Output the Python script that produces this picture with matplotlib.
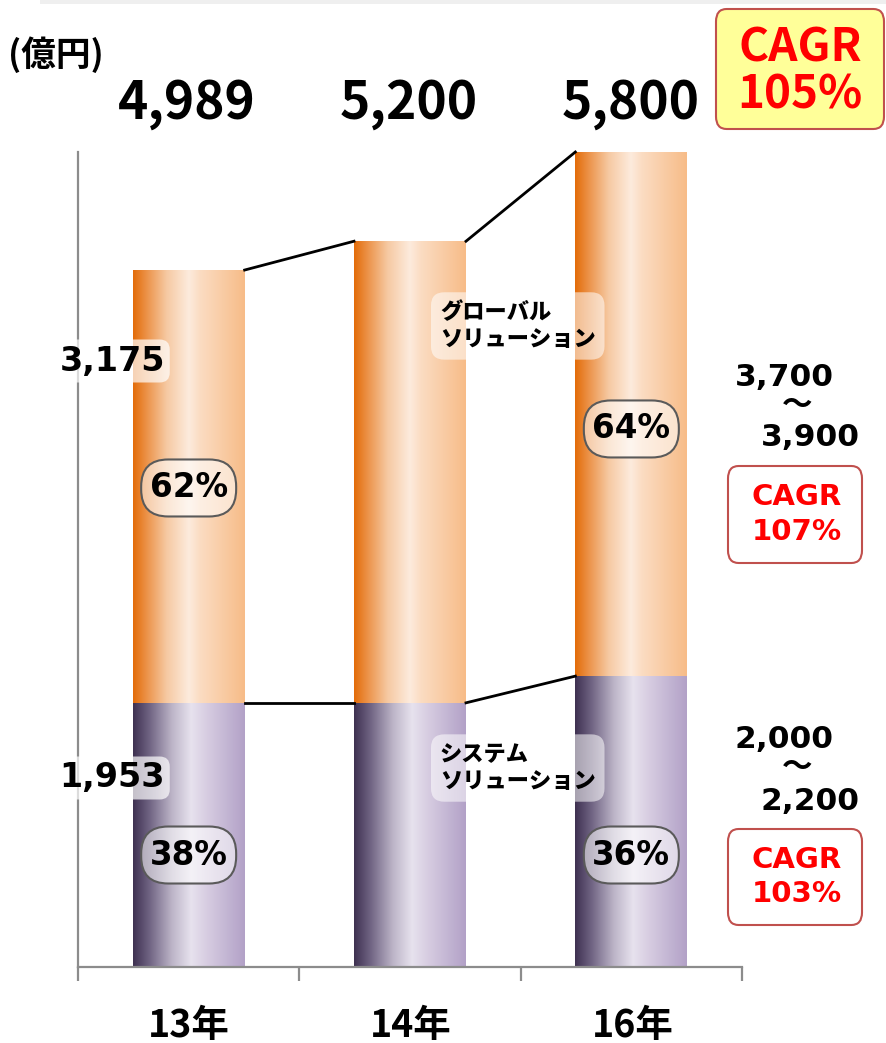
import matplotlib
matplotlib.use("Agg")
import matplotlib.pyplot as plt
import numpy as np
from matplotlib.colors import LinearSegmentedColormap
from matplotlib.patches import FancyBboxPatch

# ---------------- data ----------------
categories = ['13年', '14年', '16年']
system_vals = [1880, 1880, 2070]          # システムソリューション (bar heights)
global_vals = [3080, 3285, 3730]          # グローバルソリューション (bar heights)
total_labels = ['4,989', '5,200', '5,800']
global_label_13 = '3,175'
system_label_13 = '1,953'
global_share = ['62%', None, '64%']
system_share = ['38%', None, '36%']
global_target = ['3,700', '～', '3,900']
system_target = ['2,000', '～', '2,200']
cagr_total = 'CAGR\n105%'
cagr_global = 'CAGR\n107%'
cagr_system = 'CAGR\n103%'

# label placement (style, in axis data units)
global_pill_y = [3409, None, 3829]
system_pill_y = [797, None, 797]

W, H = 886, 1043
fig = plt.figure(figsize=(W / 100, H / 100), dpi=100)
fig.patch.set_facecolor('white')

CJK = ['Noto Sans CJK JP', 'DejaVu Sans']
NUM = ['DejaVu Sans', 'Noto Sans CJK JP']


def fx(x):
    return x / W


def fy(y):
    return 1 - y / H


# faint top strip
fig.patches.append(plt.Rectangle((fx(40), fy(4)), fx(846), 4 / H, transform=fig.transFigure,
                                 facecolor='#efefef', edgecolor='none'))

ax = fig.add_axes([fx(78), fy(967), 664 / W, (967 - 152) / H])
ax.set_xlim(-0.5, 2.5)
ax.set_ylim(0, 5800)
for s in ['top', 'right']:
    ax.spines[s].set_visible(False)
for s in ['left', 'bottom']:
    ax.spines[s].set_color('#8c8c8c')
    ax.spines[s].set_linewidth(1.6)
ax.set_xticks([-0.5, 0.5, 1.5, 2.5])
ax.set_xticklabels([])
ax.tick_params(axis='x', length=10, width=1.6, color='#8c8c8c', direction='out')
ax.set_yticks([])

orange = LinearSegmentedColormap.from_list('o', [
    (0.0, '#E36C09'), (0.12, '#EC9248'), (0.3, '#F6C9A2'), (0.5, '#FDEBDD'),
    (0.6, '#FBDCC2'), (1.0, '#F7BC88')])
purple = LinearSegmentedColormap.from_list('p', [
    (0.0, '#3F3151'), (0.15, '#716584'), (0.35, '#BDB5C8'), (0.52, '#E7E2EE'),
    (0.65, '#D8CEE2'), (1.0, '#B2A1C7')])

bw = 0.506
grad = np.linspace(0, 1, 256).reshape(1, -1)
x = np.arange(len(categories))
tops = [s + g for s, g in zip(system_vals, global_vals)]
for i in x:
    ax.imshow(grad, cmap=purple, extent=[i - bw / 2, i + bw / 2, 0, system_vals[i]],
              aspect='auto', zorder=2, interpolation='bilinear')
    ax.imshow(grad, cmap=orange, extent=[i - bw / 2, i + bw / 2, system_vals[i], tops[i]],
              aspect='auto', zorder=2, interpolation='bilinear')
ax.set_xlim(-0.5, 2.5)
ax.set_ylim(0, 5800)

# connector lines
for i in range(len(categories) - 1):
    ax.plot([i + bw / 2, i + 1 - bw / 2], [tops[i], tops[i + 1]], color='black', lw=2, zorder=3,
            clip_on=False)
    ax.plot([i + bw / 2, i + 1 - bw / 2], [system_vals[i], system_vals[i + 1]], color='black',
            lw=2, zorder=3, clip_on=False)

# share pills (drawn in pixel units around data-anchored centres)
PW, PH = 95, 57


def pill(xd, yd, txt):
    cx, cy = ax.transData.transform((xd, yd))
    p = FancyBboxPatch((cx - PW / 2, cy - PH / 2), PW, PH,
                       boxstyle='round,pad=0,rounding_size=27', transform=None,
                       fc='white', alpha=0.55, ec='none', zorder=4)
    fig.patches.append(p)
    e = FancyBboxPatch((cx - PW / 2, cy - PH / 2), PW, PH,
                       boxstyle='round,pad=0,rounding_size=27', transform=None,
                       fc='none', ec='#5a5a5a', lw=1.5, zorder=4)
    fig.patches.append(e)
    fig.text(cx / W, cy / H, txt, ha='center', va='center', fontsize=23.5, fontweight='bold',
             family=NUM, zorder=7)


for i in x:
    if global_share[i]:
        pill(i, global_pill_y[i], global_share[i])
    if system_share[i]:
        pill(i, system_pill_y[i], system_share[i])

# series name labels
lbl_box = dict(boxstyle='round,pad=0.4,rounding_size=0.6', fc='white', ec='none', alpha=0.55)
ax.text(1.135, 4562, 'グローバル\nソリューション', ha='left', va='center', fontsize=16,
        fontweight='heavy', family=CJK, linespacing=1.2, zorder=5, bbox=lbl_box)
ax.text(1.135, 1416, 'システム\nソリューション', ha='left', va='center', fontsize=16,
        fontweight='heavy', family=CJK, linespacing=1.2, zorder=5, bbox=lbl_box)

# 13年 value labels
vbox = dict(boxstyle='round,pad=0.15,rounding_size=0.3', fc='white', ec='none', alpha=0.7)
fig.text(fx(112), fy(361), global_label_13, ha='center', va='center', fontsize=24,
         fontweight='bold', family=NUM, zorder=6, bbox=vbox)
fig.text(fx(112), fy(778), system_label_13, ha='center', va='center', fontsize=24,
         fontweight='bold', family=NUM, zorder=6, bbox=vbox)

# totals
for xc, lab in zip([187, 409, 631], total_labels):
    fig.text(fx(xc), fy(104), lab, ha='center', va='center', fontsize=37, fontweight='bold',
             family=CJK)
fig.text(fx(8), fy(55), '(億円)', ha='left', va='center', fontsize=25, fontweight='bold',
         family=CJK)

# category labels
for xc, lab in zip([189, 411, 633], categories):
    fig.text(fx(xc), fy(1025), lab, ha='center', va='center', fontsize=27, fontweight='bold',
             family=CJK)

# top CAGR box
fig.patches.append(FancyBboxPatch((fx(716), fy(129)), 168 / W, 120 / H,
                                  boxstyle='round,pad=0,rounding_size=0.012',
                                  transform=fig.transFigure, fc='#FFFF99', ec='#C0504D', lw=1.5))
fig.text(fx(800), fy(72), cagr_total, ha='center', va='center', fontsize=33, fontweight='bold',
         color='#FF0000', family=CJK, linespacing=1.05)

# right targets
for ys, vals in [((377, 405, 438), global_target), ((739, 767, 801), system_target)]:
    fig.text(fx(784), fy(ys[0]), vals[0], ha='center', va='center', fontsize=22.5,
             fontweight='bold', family=NUM)
    fig.text(fx(797), fy(ys[1]), vals[1], ha='center', va='center', fontsize=22,
             fontweight='bold', family=CJK)
    fig.text(fx(810), fy(ys[2]), vals[2], ha='center', va='center', fontsize=22.5,
             fontweight='bold', family=NUM)

for (ytop, ybot, lab) in [(466, 563, cagr_global), (829, 925, cagr_system)]:
    fig.patches.append(FancyBboxPatch((fx(728), fy(ybot)), 134 / W, (ybot - ytop) / H,
                                      boxstyle='round,pad=0,rounding_size=0.012',
                                      transform=fig.transFigure, fc='white', ec='#C0504D', lw=1.5))
    fig.text(fx(797), fy((ytop + ybot) / 2), lab, ha='center', va='center', fontsize=21,
             fontweight='bold', color='#FF0000', family=NUM, linespacing=1.3)

fig.savefig('out.png', dpi=100)
